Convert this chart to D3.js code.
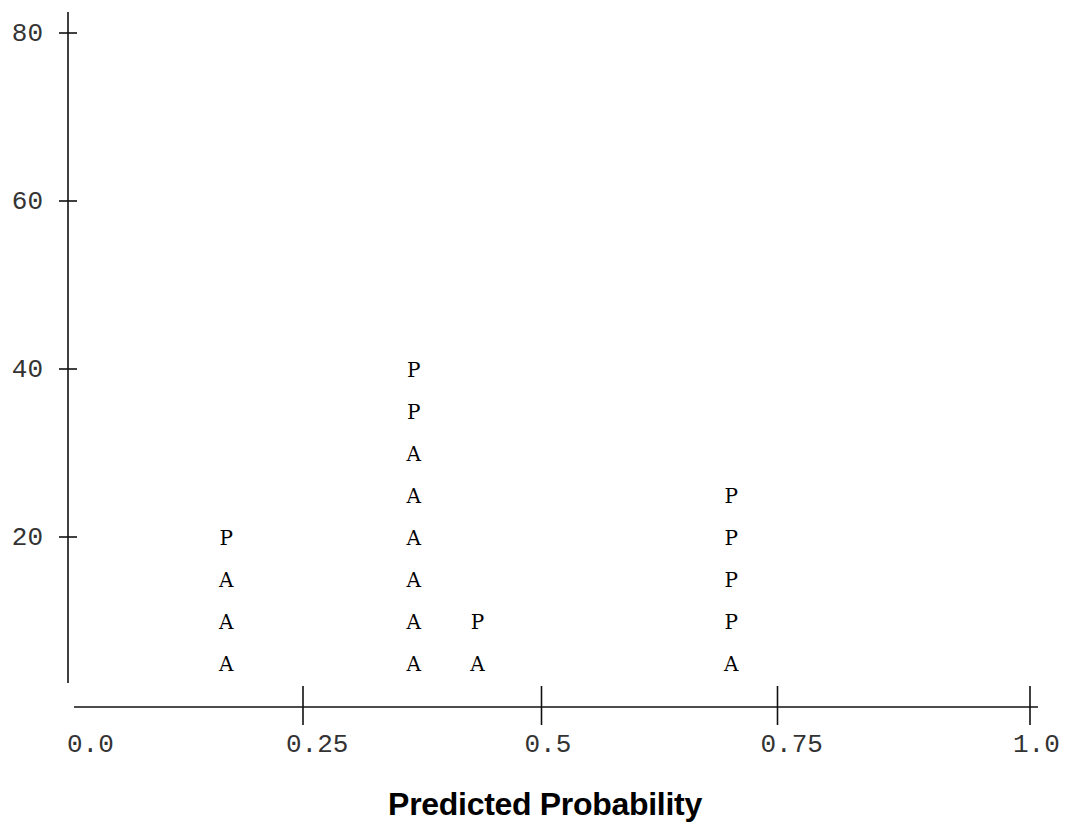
<!DOCTYPE html>
<html>
<head>
<meta charset="utf-8">
<script src="https://cdn.jsdelivr.net/npm/d3@7/dist/d3.min.js"></script>
<style>
  html, body { margin: 0; padding: 0; background: #fff; }
  svg { display: block; }
</style>
</head>
<body>
<svg id="chart" width="1065" height="829"></svg>
<script>
// ---- data ----
const xTickValues = [0.25, 0.5, 0.75, 1.0];
const xTickLabels = ["0.0", "0.25", "0.5", "0.75", "1.0"];
const xLabelValues = [0, 0.25, 0.5, 0.75, 1.0];
const yTickValues = [20, 40, 60, 80];
const yTickLabels = ["20", "40", "60", "80"];

const pointProb = [
  0.162, 0.162, 0.162, 0.162,
  0.366, 0.366, 0.366, 0.366, 0.366, 0.366, 0.366, 0.366,
  0.433, 0.433,
  0.701, 0.701, 0.701, 0.701, 0.701
];
const pointFreq = [
  5, 10, 15, 20,
  5, 10, 15, 20, 25, 30, 35, 40,
  5, 10,
  5, 10, 15, 20, 25
];
const pointSymbol = [
  "A", "A", "A", "P",
  "A", "A", "A", "A", "A", "A", "P", "P",
  "A", "P",
  "A", "P", "P", "P", "P"
];
const xTitle = "Predicted Probability";

// ---- layout ----
const svg = d3.select("#chart");
const x = d3.scaleLinear()
  .domain([0, 0.25, 0.5, 0.75, 1.0])
  .range([85, 303, 541.5, 777.5, 1030]);
const y = d3.scaleLinear().domain([0, 80]).range([705, 33]);

const axisY = 707;       // x axis line position
const axisX = 68;        // y axis line position
const ink = "#111";
const monoFont = "'Liberation Mono', 'DejaVu Sans Mono', monospace";

// x axis line
svg.append("line")
  .attr("x1", 74).attr("x2", 1038)
  .attr("y1", axisY).attr("y2", axisY)
  .attr("stroke", ink).attr("stroke-width", 1.6);

// x ticks
svg.selectAll(".xtick").data(xTickValues).enter().append("line")
  .attr("class", "xtick")
  .attr("x1", d => x(d)).attr("x2", d => x(d))
  .attr("y1", axisY - 21).attr("y2", axisY + 18)
  .attr("stroke", ink).attr("stroke-width", 1.6);

// x tick labels
svg.selectAll(".xlab").data(xLabelValues).enter().append("text")
  .attr("class", "xlab")
  .attr("x", (d, i) => i === 0 ? x(d) - 18 : x(d) - 17)
  .attr("y", axisY + 45)
  .attr("text-anchor", "start")
  .attr("font-family", monoFont)
  .attr("font-size", 26)
  .attr("fill", "#333")
  .text((d, i) => xTickLabels[i]);

// y axis line
svg.append("line")
  .attr("x1", axisX).attr("x2", axisX)
  .attr("y1", 12).attr("y2", 683)
  .attr("stroke", ink).attr("stroke-width", 1.6);

// y ticks
svg.selectAll(".ytick").data(yTickValues).enter().append("line")
  .attr("class", "ytick")
  .attr("x1", axisX - 9).attr("x2", axisX + 9)
  .attr("y1", d => y(d)).attr("y2", d => y(d))
  .attr("stroke", ink).attr("stroke-width", 1.6);

// y tick labels
svg.selectAll(".ylab").data(yTickValues).enter().append("text")
  .attr("class", "ylab")
  .attr("x", 43)
  .attr("y", d => y(d) + 8)
  .attr("text-anchor", "end")
  .attr("font-family", monoFont)
  .attr("font-size", 26)
  .attr("fill", "#333")
  .text((d, i) => yTickLabels[i]);

// plotted symbols
svg.selectAll(".sym").data(pointProb).enter().append("text")
  .attr("class", "sym")
  .attr("x", d => x(d))
  .attr("y", (d, i) => y(pointFreq[i]) + 7.5)
  .attr("text-anchor", "middle")
  .attr("font-family", "'DejaVu Serif', 'Liberation Serif', serif")
  .attr("font-size", 20)
  .attr("fill", "#000")
  .text((d, i) => pointSymbol[i]);

// x title
svg.append("text")
  .attr("x", 545)
  .attr("y", 815)
  .attr("text-anchor", "middle")
  .attr("font-family", "'Liberation Sans', Arial, sans-serif")
  .attr("font-weight", "bold")
  .attr("font-size", 32)
  .attr("letter-spacing", -0.3)
  .attr("fill", "#000")
  .text(xTitle);
</script>
</body>
</html>
